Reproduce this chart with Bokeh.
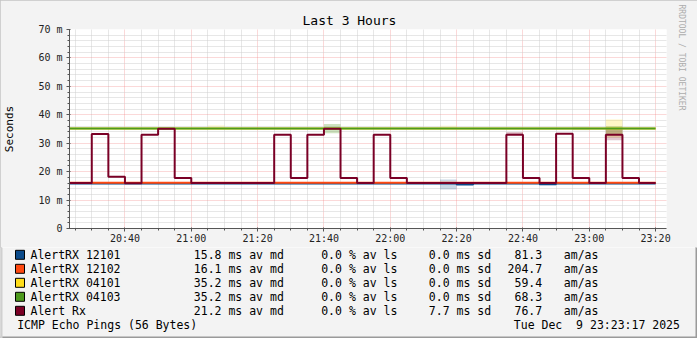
from bokeh.plotting import figure
from bokeh.models import FixedTicker, Range1d, Title
from bokeh.layouts import column
from bokeh.core.properties import value
from bokeh.embed import file_html
from bokeh.resources import INLINE

# ---------------- data ----------------
bins = ["20:20", "20:25", "20:30", "20:35", "20:40", "20:45", "20:50", "20:55",
        "21:00", "21:05", "21:10", "21:15", "21:20", "21:25", "21:30", "21:35",
        "21:40", "21:45", "21:50", "21:55", "22:00", "22:05", "22:10", "22:15",
        "22:20", "22:25", "22:30", "22:35", "22:40", "22:45", "22:50", "22:55",
        "23:00", "23:05", "23:10", "23:15"]
last_time = "23:20"

rx12101 = [15.8, 15.8, 15.8, 15.8, 15.8, 15.8, 15.8, 15.8, 15.8, 15.8, 15.8, 15.8,
           15.8, 15.8, 15.8, 15.8, 15.8, 15.8, 15.8, 15.8, 15.8, 15.8, 15.8, 15.8,
           15.5, 15.8, 15.8, 15.8, 15.8, 15.6, 15.8, 15.8, 15.8, 15.8, 15.8, 15.8]
rx12102 = [16.1, 16.1, 16.1, 16.1, 16.1, 16.1, 16.1, 16.1, 16.1, 16.1, 16.1, 16.1,
           16.1, 16.1, 16.1, 16.1, 16.1, 16.1, 16.1, 16.1, 16.1, 16.1, 16.1, 16.1,
           16.1, 16.1, 16.1, 16.1, 16.1, 16.1, 16.1, 16.1, 16.1, 16.1, 16.1, 16.1]
rx04101 = [35.2, 35.2, 35.2, 35.2, 35.2, 35.2, 35.2, 35.2, 35.2, 35.2, 35.2, 35.2,
           35.2, 35.2, 35.2, 35.2, 35.2, 35.2, 35.2, 35.2, 35.2, 35.2, 35.2, 35.2,
           35.2, 35.2, 35.2, 35.2, 35.2, 35.2, 35.2, 35.2, 35.2, 35.2, 35.2, 35.2]
rx04103 = [35.2, 35.2, 35.2, 35.2, 35.2, 35.2, 35.2, 35.2, 35.2, 35.2, 35.2, 35.2,
           35.2, 35.2, 35.2, 35.2, 35.2, 35.2, 35.2, 35.2, 35.2, 35.2, 35.2, 35.2,
           35.2, 35.2, 35.2, 35.2, 35.2, 35.2, 35.2, 35.2, 35.2, 35.2, 35.2, 35.2]
alert_rx = [16.0, 16.0, 33.2, 18.2, 15.9, 33.0, 35.1, 17.8, 16.0, 16.0, 16.0, 16.0,
            16.0, 33.0, 17.8, 33.0, 35.1, 17.8, 16.0, 33.0, 17.8, 16.0, 16.0, 16.0,
            16.0, 16.0, 16.0, 33.0, 17.8, 16.0, 33.3, 17.8, 16.0, 33.0, 17.8, 16.0]

# smoke (spread) boxes: series index, bin start, low, high, strength
smoke_series = [3, 0, 2, 3, 4, 4, 2, 2, 3, 0]
smoke_time = ["21:40", "22:15", "23:05", "23:05", "23:05", "22:35", "21:05", "22:15", "22:55", "22:45"]
smoke_low = [33.5, 13.7, 32.0, 33.0, 31.0, 33.0, 35.0, 35.0, 34.6, 15.2]
smoke_high = [36.8, 17.2, 38.3, 36.0, 35.0, 33.9, 36.4, 36.2, 35.8, 16.0]
smoke_alpha = [0.28, 0.22, 0.25, 0.25, 0.22, 0.3, 0.12, 0.12, 0.15, 0.15]

names = ["AlertRX 12101", "AlertRX 12102", "AlertRX 04101", "AlertRX 04103", "Alert Rx"]
colors = ["#0B4A8A", "#FF4A12", "#FFDD1A", "#4E9A1E", "#7A0026"]
median = [15.8, 16.1, 35.2, 35.2, 21.2]
loss = [0.0, 0.0, 0.0, 0.0, 0.0]
sdev = [0.0, 0.0, 0.0, 0.0, 7.7]
amas = [81.3, 204.7, 59.4, 68.3, 76.7]

x_ticks = ["20:40", "21:00", "21:20", "21:40", "22:00", "22:20", "22:40", "23:00", "23:20"]
y_ticks = [0, 10, 20, 30, 40, 50, 60, 70]
y_labels = ["0", "10 m", "20 m", "30 m", "40 m", "50 m", "60 m", "70 m"]

title = "Last 3 Hours"
y_title = "Seconds"
footer_left = "ICMP Echo Pings (56 Bytes)"
footer_right = "Tue Dec \u00a09 23:23:17 2025"
watermark = "RRDTOOL / TOBI OETIKER"

# ---------------- layout ----------------
W, H = 697, 338
FL, FR, FT, FB = 67, 667, 29, 228
H1 = 247                # height of the chart part, legend part below it
H2 = H - H1
MONO = "DejaVu Sans Mono"
BG = "#F3F3F3"


def hm(s):
    h, m = s.split(":")
    return int(h) * 60 + int(m)


def no_frame_align(fig):
    try:
        fig.frame_align = False
    except Exception:
        pass


X0 = hm("20:23") + 17 / 60
X1 = X0 + 180

p = figure(width=W, height=H1, x_range=Range1d(X0, X1), y_range=Range1d(0, 70),
           min_border_left=FL, min_border_right=W - FR, min_border_top=FT,
           min_border_bottom=H1 - FB, output_backend="svg", toolbar_location=None,
           background_fill_color="white", border_fill_color=BG,
           outline_line_color=None)
no_frame_align(p)

xt_major = [hm(t) for t in x_ticks]
xt_minor = [m for m in range(hm("20:25"), hm("23:25"), 5) if m not in xt_major]
yt_minor = [v for v in range(0, 71, 2) if v not in y_ticks]

xtick = FixedTicker(ticks=xt_major, minor_ticks=xt_minor)
ytick = FixedTicker(ticks=y_ticks, minor_ticks=yt_minor)
p.xaxis.ticker = xtick
p.yaxis.ticker = ytick
p.xgrid.ticker = xtick
p.ygrid.ticker = ytick

for g in (p.xgrid, p.ygrid):
    g.grid_line_color = "#F08080"
    g.grid_line_alpha = 0.6
    g.grid_line_dash = "1 1"
    g.minor_grid_line_color = "#CFCFCF"
    g.minor_grid_line_dash = "1 1"

p.xaxis.major_label_overrides = {hm(t): t for t in x_ticks}
p.yaxis.major_label_overrides = {v: l for v, l in zip(y_ticks, y_labels)}

for ax in (p.xaxis, p.yaxis):
    ax.axis_line_color = "#555555"
    ax.major_tick_line_color = "#555555"
    ax.minor_tick_line_color = "#555555"
    ax.major_tick_out = 3
    ax.major_tick_in = 1
    ax.minor_tick_out = 2
    ax.minor_tick_in = 0
    ax.major_label_text_font = MONO
    ax.major_label_text_font_size = "10px"
    ax.major_label_text_color = "#222222"
p.yaxis.major_label_standoff = 4
p.xaxis.major_label_standoff = 1

p.yaxis.axis_label = y_title
p.yaxis.axis_label_text_font = MONO
p.yaxis.axis_label_text_font_size = "11px"
p.yaxis.axis_label_text_font_style = "normal"
p.yaxis.axis_label_text_color = "#000000"
p.yaxis.axis_label_standoff = 19

p.title = Title(text=title, align="left", offset=300 - FL, text_font=MONO,
                text_font_size="13px", text_font_style="normal", text_color="#000000",
                standoff=4)

p.add_layout(Title(text=watermark, align="left", offset=-25, text_font=MONO,
                   text_font_size="8px", text_font_style="normal", text_color="#ADADAD",
                   standoff=20), "right")

# smoke
for s, t, lo, hi, a in zip(smoke_series, smoke_time, smoke_low, smoke_high, smoke_alpha):
    p.quad(left=hm(t), right=hm(t) + 5, bottom=lo, top=hi,
           fill_color=colors[s], fill_alpha=a, line_color=None)

xs = [hm(b) for b in bins] + [hm(last_time)]
for vals, c in zip([rx12101, rx12102, rx04101, rx04103, alert_rx], colors):
    p.step(xs, vals + [vals[-1]], mode="after", line_color=c, line_width=2)

# ---------------- legend panel (pixel coordinates, y downward) ----------------
q = figure(width=W, height=H2, x_range=Range1d(0, W), y_range=Range1d(H2, 0),
           min_border=0, min_border_left=0, min_border_right=0, min_border_top=0,
           min_border_bottom=0, x_axis_location=None, y_axis_location=None,
           output_backend="svg", toolbar_location=None, background_fill_color=BG,
           border_fill_color=BG, outline_line_color=None)
no_frame_align(q)
q.xgrid.visible = False
q.ygrid.visible = False

row_y = [254.3 + 14 * i - H1 for i in range(5)]
q.quad(left=[15] * 5, right=[24] * 5, top=[y - 4.5 for y in row_y],
       bottom=[y + 4.5 for y in row_y], fill_color=colors, line_color="#000000", line_width=1)

common = dict(text_font=value(MONO), text_font_size="11.5px", text_baseline="middle",
              text_color="#000000")
q.text(x=[30] * 5, y=row_y, text=names, **common)
q.text(x=[193.3] * 5, y=row_y, text=[f"{v:.1f} ms av md" for v in median], **common)
q.text(x=[320.7] * 5, y=row_y, text=[f"{v:.1f} % av ls" for v in loss], **common)
q.text(x=[428.3] * 5, y=row_y, text=[f"{v:.1f} ms sd" for v in sdev], **common)
q.text(x=[541.7] * 5, y=row_y, text=[f"{v:.1f}" for v in amas], text_align="right", **common)
q.text(x=[563.3] * 5, y=row_y, text=["am/as"] * 5, **common)
q.text(x=[16.7], y=[324 - H1], text=[footer_left], **common)
q.text(x=[513.3], y=[324 - H1], text=[footer_right], **common)

# frame border of the whole image (bottom and right darker)
q.quad(left=[0], right=[W], top=[H2 - 2], bottom=[H2], fill_color="#9A9A9A", line_color=None)
q.quad(left=[W - 2], right=[W], top=[0], bottom=[H2], fill_color="#9A9A9A", line_color=None)
q.quad(left=[0], right=[2], top=[0], bottom=[H2], fill_color="#D0D0D0", line_color=None)

layout = column(p, q, spacing=0)
layout.styles = {"outline": "2px solid #C4C4C4", "outline-offset": "-2px"}

open("out.html", "w").write(file_html(layout, INLINE))
